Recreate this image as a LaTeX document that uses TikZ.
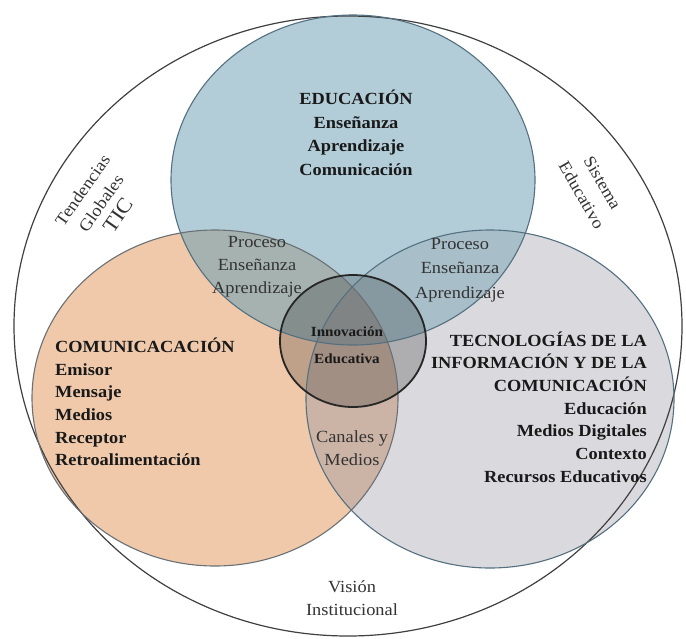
\documentclass[tikz,border=0pt]{standalone}
\usepackage{fontspec}
\setmainfont{Liberation Serif}[FakeStretch=1.08]
\definecolor{eduBlue}{HTML}{B2CDD7}
\definecolor{comOrange}{HTML}{EFC9AA}
\definecolor{ticGray}{HTML}{DADADE}
\definecolor{lensBO}{HTML}{A6B2B0}
\definecolor{lensBG}{HTML}{A8BEC8}
\definecolor{lensOG}{HTML}{CBB3A5}
\definecolor{lensAll}{HTML}{A0A6A6}
\definecolor{rimBlue}{HTML}{557080}
\definecolor{rimGray}{HTML}{6A7076}
\def\blueDisc{(353,180) ellipse [x radius=182, y radius=165]}
\def\orangeDisc{(215,398) ellipse [x radius=183, y radius=168]}
\def\grayDisc{(490,399) ellipse [x radius=184, y radius=169]}
\def\innerDisc{(353,341) ellipse [x radius=73, y radius=66]}
\def\outerDisc{(348,326) ellipse [x radius=334, y radius=310]}

\begin{document}
\begin{tikzpicture}[x=1pt, y=-1pt,
    bigtxt/.style={inner sep=0pt, text=black!90, font=\bfseries\fontsize{17}{22.7}\selectfont},
    lenstxt/.style={inner sep=0pt, text=black!80, align=center, font=\fontsize{17}{23}\selectfont},
    sidetxt/.style={inner sep=0pt, text=black!80, align=center, font=\fontsize{17}{22.5}\selectfont},
    rim/.style={line width=1.1pt, draw=rimGray}]
    %%%%% START %%%%%
    \useasboundingbox (0,0) rectangle (686,638);
    \fill[white] (0,0) rectangle (686,638);

    % the three discs
    \fill[comOrange] \orangeDisc;
    \fill[ticGray] \grayDisc;
    \fill[eduBlue] \blueDisc;

    % the overlaps
    \begin{scope}
        \clip \blueDisc;
        \fill[lensBO] \orangeDisc;
        \fill[lensBG] \grayDisc;
    \end{scope}
    \begin{scope}
        \clip \orangeDisc;
        \fill[lensOG] \grayDisc;
    \end{scope}
    \begin{scope}
        \clip \blueDisc;
        \clip \orangeDisc;
        \fill[lensAll] \grayDisc;
    \end{scope}

    \fill[black, opacity=0.2] \innerDisc;

    % rims
    \draw[line width=1.2pt, draw=black!75] \outerDisc;
    \draw[rim] \orangeDisc;
    \draw[rim, draw=rimBlue] \grayDisc;
    \draw[rim, draw=rimBlue] \blueDisc;
    \draw[line width=1.8pt, draw=black!85] \innerDisc;

    % texts
    \node[bigtxt, align=center, font=\bfseries\fontsize{17}{23.5}\selectfont] (edu) at (356,133) {EDUCACIÓN\\Enseñanza\\Aprendizaje\\Comunicación};
    \node[bigtxt, align=left, anchor=west] (com) at (55,402) {COMUNICACACIÓN\\Emisor\\Mensaje\\Medios\\Receptor\\Retroalimentación};
    \node[bigtxt, align=right, anchor=east] (tic) at (647,407) {TECNOLOGÍAS DE LA\\INFORMACIÓN Y DE LA\\COMUNICACIÓN\\Educación\\Medios Digitales\\Contexto\\Recursos Educativos};
    \node[bigtxt, align=center, font=\bfseries\fontsize{14}{27}\selectfont] (innov) at (347,345) {Innovación\\Educativa};

    \node[lenstxt] (peaL) at (257,267) {Proceso\\Enseñanza\\Aprendizaje};
    \node[lenstxt, font=\fontsize{17}{24.5}\selectfont] (peaR) at (460,270) {Proceso\\Enseñanza\\Aprendizaje};
    \node[lenstxt] (canal) at (352,448) {Canales y\\Medios};

    \node[sidetxt, font=\fontsize{17}{23}\selectfont] (vision) at (352,598) {Visión\\Institucional};
    \node[sidetxt, rotate=55] (tend) at (101,203) {Tendencias\\Globales\\{\fontsize{21}{22.5}\selectfont TIC}};
    \node[sidetxt, rotate=-60, font=\fontsize{17}{24}\selectfont] (sist) at (592,189) {Sistema\\Educativo};
    %%%%% END %%%%%
\end{tikzpicture}
\end{document}
